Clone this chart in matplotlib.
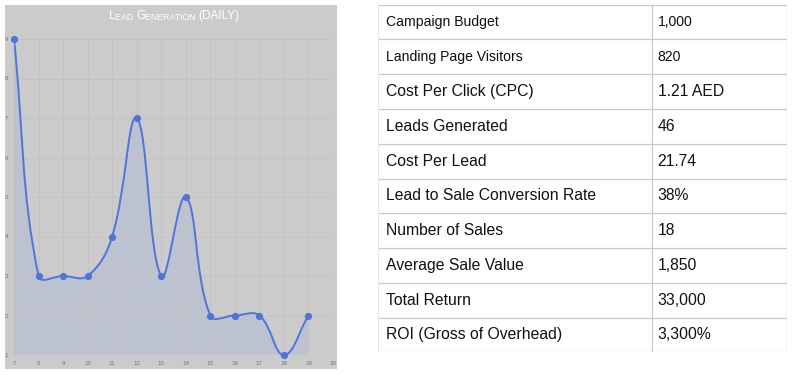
import numpy as np
import matplotlib
matplotlib.use("Agg")
import matplotlib.pyplot as plt
from matplotlib.path import Path
from matplotlib.patches import PathPatch, Rectangle
from matplotlib.text import Annotation

# Chart data
days = [7, 8, 9, 10, 11, 12, 13, 14, 15, 16, 17, 18, 19]
leads = [9, 3, 3, 3, 4, 7, 3, 5, 2, 2, 2, 1, 2]
x_ticks = list(range(7, 21))
y_ticks = list(range(1, 10))

# Table data
metrics = ["Campaign Budget", "Landing Page Visitors", "Cost Per Click (CPC)",
           "Leads Generated", "Cost Per Lead", "Lead to Sale Conversion Rate",
           "Number of Sales", "Average Sale Value", "Total Return",
           "ROI (Gross of Overhead)"]
values = ["1,000", "820", "1.21 AED", "46", "21.74", "38%", "18", "1,850",
          "33,000", "3,300%"]

W, H = 799, 375
fig = plt.figure(figsize=(W / 100, H / 100), dpi=100)
plt.rcParams['font.family'] = ['Liberation Sans', 'DejaVu Sans']


def fx(px):
    return px / W


def fy(py):
    return 1 - py / H


# gray chart panel
fig.patches.append(Rectangle((fx(5), fy(369)), fx(332), 364 / H, transform=fig.transFigure,
                             facecolor='#cbcbcb', edgecolor='none', zorder=-5))

ax = fig.add_axes([fx(14), fy(355), fx(319), 316 / H])
ax.set_facecolor('none')
ax.set_xlim(7, 20)
ax.set_ylim(1, 9)
ax.set_xticks(x_ticks)
ax.set_yticks(y_ticks)
ax.tick_params(length=0, labelsize=4.5, labelcolor='#777777', pad=4)
ax.grid(True, color='#c3c3c3', linewidth=0.7)
for s in ax.spines.values():
    s.set_visible(False)
ax.axhline(1, color='#bdbdbd', lw=0.8)
ax.axvline(7, color='#bdbdbd', lw=0.8)


# smooth bezier line (chart.js style, tension 0.4), computed in pixel scale
def bezier_path(xs, ys, t=0.4, sx=24.5, sy=39.5):
    px = np.array(xs, float) * sx
    py = np.array(ys, float) * sy
    n = len(px)
    inner, outer = [], []
    for i in range(n):
        p0 = max(i - 1, 0)
        p2 = min(i + 1, n - 1)
        d01 = np.hypot(px[i] - px[p0], py[i] - py[p0])
        d12 = np.hypot(px[p2] - px[i], py[p2] - py[i])
        fa = t * d01 / (d01 + d12)
        fb = t * d12 / (d01 + d12)
        inner.append((px[i] - fa * (px[p2] - px[p0]), py[i] - fa * (py[p2] - py[p0])))
        outer.append((px[i] + fb * (px[p2] - px[p0]), py[i] + fb * (py[p2] - py[p0])))
    verts = [(px[0], py[0])]
    codes = [Path.MOVETO]
    for i in range(1, n):
        verts += [outer[i - 1], inner[i], (px[i], py[i])]
        codes += [Path.CURVE4] * 3
    verts = [(a / sx, max(b / sy, 1)) for a, b in verts]
    return verts, codes


verts, codes = bezier_path(days, leads)
fill_verts = verts + [(days[-1], 1), (days[0], 1), verts[0]]
fill_codes = codes + [Path.LINETO, Path.LINETO, Path.CLOSEPOLY]
ax.add_patch(PathPatch(Path(fill_verts, fill_codes), facecolor='#bcc2d0', edgecolor='none', zorder=1))
ax.add_patch(PathPatch(Path(verts, codes), facecolor='none', edgecolor='#4f74e0', lw=1.4, zorder=2))
ax.plot(days, leads, 'o', color='#4f74e0', ms=4.2, zorder=3, clip_on=False)

# title in small caps, pieces chained one after another
parts = [("L", 8.5), ("EAD ", 6.3), ("G", 8.5), ("ENERATION ", 6.3), ("(DAILY)", 8.5)]
prev = fig.text(fx(109), fy(19), parts[0][0], color='white', fontsize=parts[0][1], va='baseline')
for txt, size in parts[1:]:
    a = Annotation(txt, xy=(1, 0), xycoords=prev, va='bottom', ha='left',
                   color='white', fontsize=size, annotation_clip=False)
    a.set_figure(fig)
    fig.texts.append(a)
    prev = a

# table
tab = fig.add_axes([fx(378), fy(352.3), fx(409), 347.6 / H])
tab.set_xlim(378, 787)
tab.set_ylim(352.3, 4.7)
tab.axis('off')
nrows = len(metrics)
row_h = (352.3 - 4.7) / nrows
edges = [4.7 + i * row_h for i in range(nrows + 1)]
tab.hlines(edges, 378, 786.7, color='#c8c8c8', lw=0.9)
tab.vlines([651.7, 786.7], 4.7, 352.3, color='#c8c8c8', lw=0.9)
tab.vlines([378.3], 4.7, 352.3, color='#e6e6e6', lw=0.9)
for i, (m, v) in enumerate(zip(metrics, values)):
    yc = edges[i] + row_h / 2
    size = 10.1 if i < 2 else 11.3
    tab.text(386, yc, m, fontsize=size, va='center', ha='left', color='#111111')
    tab.text(657.7, yc, v, fontsize=size, va='center', ha='left', color='#111111')

fig.savefig('out.png', dpi=100, facecolor='white')
